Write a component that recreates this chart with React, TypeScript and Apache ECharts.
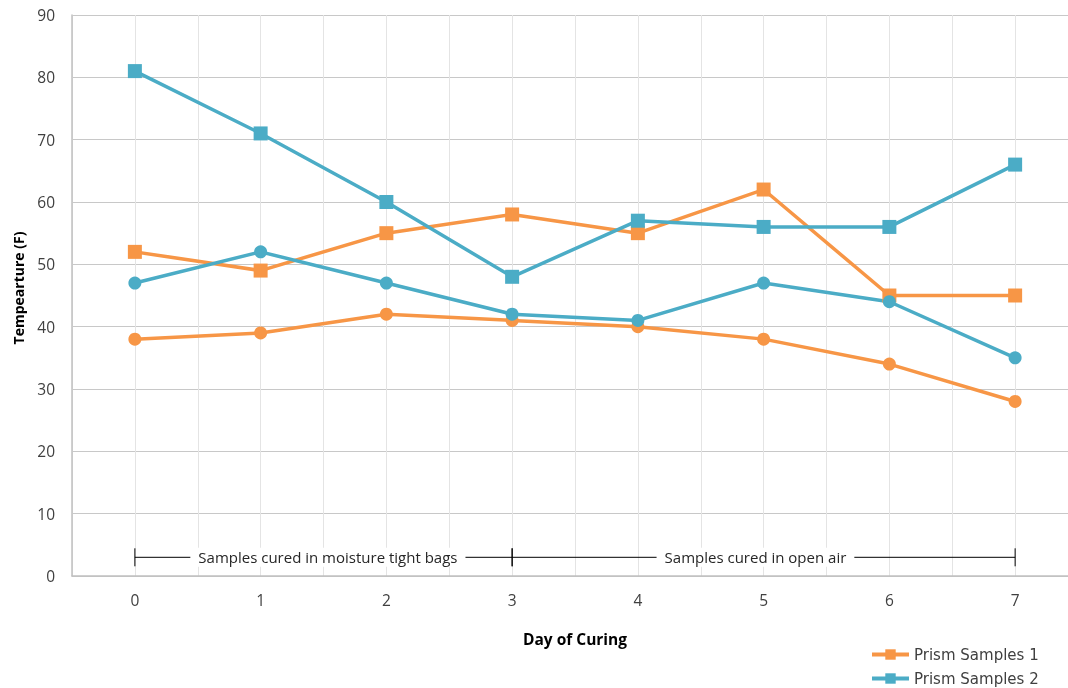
import React, { useEffect, useRef } from "react";
import * as echarts from "echarts";

const days = [0, 1, 2, 3, 4, 5, 6, 7];
const orangeSquares = [52, 49, 55, 58, 55, 62, 45, 45];
const orangeCircles = [38, 39, 42, 41, 40, 38, 34, 28];
const blueSquares = [81, 71, 60, 48, 57, 56, 56, 66];
const blueCircles = [47, 52, 47, 42, 41, 47, 44, 35];
const legendNames = ["Prism Samples 1", "Prism Samples 2"];
const bracketStarts = [0, 3];
const bracketEnds = [3, 7];
const bracketLabels = ["Samples cured in moisture tight bags", "Samples cured in open air"];
const bracketLabelAt = [1.535, 4.935];
const bracketLevel = 3;

const ORANGE = "#F79646";
const BLUE = "#4BACC6";
const FONT = "'Open Sans', 'Noto Sans', sans-serif";

export default function App() {
  const ref = useRef<HTMLDivElement>(null);
  useEffect(() => {
    if (!ref.current) return;
    const chart = echarts.init(ref.current, null, { renderer: "svg" });
    const pts = (vals: number[]) => days.map((d, i) => [d, vals[i]]);
    const lineSeries = (name: string, vals: number[], color: string, symbol: string, size: number) => ({
      type: "line",
      name,
      data: pts(vals),
      symbol,
      symbolSize: size,
      showAllSymbol: true,
      lineStyle: { color, width: 3.5 },
      itemStyle: { color },
      emphasis: { disabled: true },
    });
    const bracketData = bracketStarts.map((s, i) => [s, bracketEnds[i], bracketLevel, bracketLabelAt[i], i]);
    chart.setOption({
      animation: false,
      textStyle: { fontFamily: FONT },
      grid: { left: 72, top: 15, width: 1006, bottom: 112, containLabel: false, outerBoundsMode: "none" },
      xAxis: {
        type: "value",
        min: -0.5,
        max: 7.5,
        interval: 0.5,
        name: "Day of Curing",
        nameLocation: "middle",
        nameGap: 55,
        nameTextStyle: { fontWeight: "bold", fontSize: 15.5, color: "#000", fontFamily: FONT },
        axisLine: { show: true, onZero: false, lineStyle: { color: "#c0c0c0", width: 1.5 } },
        axisTick: { show: false },
        axisLabel: {
          margin: 16,
          fontSize: 15.5,
          color: "#404040",
          fontFamily: FONT,
          formatter: (v: number) => (Number.isInteger(v) && v >= 0 && v <= 7 ? String(v) : ""),
        },
        splitLine: { show: true, lineStyle: { color: "#e4e4e4", width: 1 } },
      },
      yAxis: {
        type: "value",
        min: 0,
        max: 90,
        interval: 10,
        name: "Tempearture (F)",
        nameLocation: "middle",
        nameGap: 47,
        nameRotate: 90,
        nameTextStyle: { fontWeight: "bold", fontSize: 14, color: "#000", fontFamily: FONT, padding: [0, 0, 0, 15] },
        axisLine: { show: true, onZero: false, lineStyle: { color: "#c0c0c0", width: 1.5 } },
        axisTick: { show: false },
        axisLabel: { margin: 17, fontSize: 15.5, color: "#404040", fontFamily: FONT },
        splitLine: { show: true, lineStyle: { color: "#c8c8c8", width: 1.2 } },
      },
      legend: {
        data: legendNames,
        orient: "vertical",
        left: 870,
        top: 647,
        padding: 0,
        itemWidth: 37,
        itemHeight: 13,
        itemGap: 9,
        lineStyle: { width: 4 },
        textStyle: { fontSize: 15, color: "#404040", fontFamily: "'DejaVu Sans', sans-serif" },
      },
      series: [
        lineSeries(legendNames[0], orangeSquares, ORANGE, "rect", 14),
        lineSeries(legendNames[1], blueSquares, BLUE, "rect", 14),
        lineSeries("Prism Samples 1 (round)", orangeCircles, ORANGE, "circle", 13),
        lineSeries("Prism Samples 2 (round)", blueCircles, BLUE, "circle", 13),
        {
          type: "custom",
          name: "brackets",
          data: bracketData,
          silent: true,
          clip: false,
          z: 5,
          renderItem: (params: any, api: any) => {
            const a = api.coord([api.value(0), api.value(2)]);
            const b = api.coord([api.value(1), api.value(2)]);
            const t = api.coord([api.value(3), api.value(2)]);
            const idx = api.value(4);
            const stroke = { stroke: "#000", lineWidth: 1 };
            return {
              type: "group",
              children: [
                { type: "line", shape: { x1: a[0], y1: a[1], x2: b[0], y2: b[1] }, style: stroke },
                { type: "line", shape: { x1: a[0], y1: a[1] - 9, x2: a[0], y2: a[1] + 9 }, style: stroke },
                { type: "line", shape: { x1: b[0], y1: b[1] - 9, x2: b[0], y2: b[1] + 9 }, style: stroke },
                {
                  type: "text",
                  x: t[0],
                  y: t[1],
                  style: {
                    text: bracketLabels[idx],
                    fill: "#262626",
                    font: `15px ${FONT}`,
                    align: "center",
                    verticalAlign: "middle",
                    backgroundColor: "#fff",
                    padding: [2, 8],
                  },
                },
              ],
            };
          },
        },
      ],
    });
    return () => chart.dispose();
  }, []);
  return <div ref={ref} style={{ position: "fixed", left: 0, top: 0, width: 1068, height: 688 }} />;
}
